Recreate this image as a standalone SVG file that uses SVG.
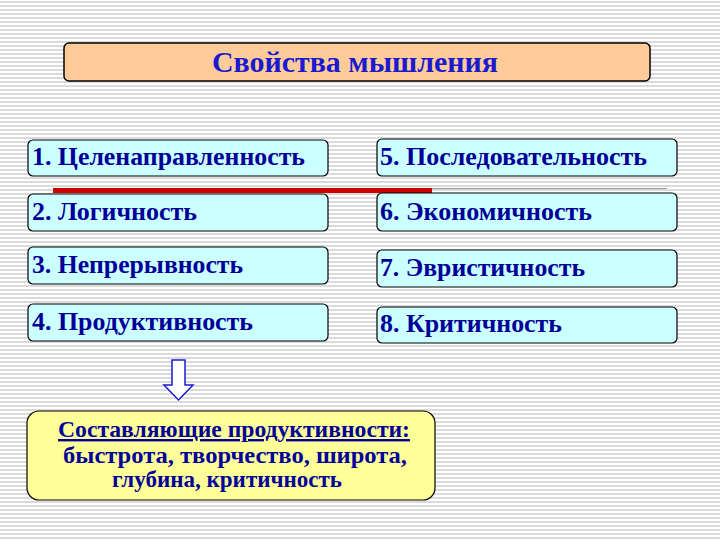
<svg xmlns="http://www.w3.org/2000/svg" width="720" height="540" viewBox="0 0 720 540">
<defs>
<pattern id="stripes" x="0" y="0" width="8" height="4" patternUnits="userSpaceOnUse">
<rect x="0" y="0" width="8" height="4" fill="#ffffff"/>
<rect x="0" y="1" width="8" height="2" fill="#dadada"/>
</pattern>
</defs>
<style>
.box{fill:#ccffff;stroke:#000000;stroke-width:1.2}
.lbl{font-family:"Liberation Serif","Times New Roman",serif;font-weight:bold;font-size:26px;fill:#000099}
.sub{font-family:"Liberation Serif","Times New Roman",serif;font-weight:bold;font-size:24px;fill:#000099}
.title{font-family:"Liberation Serif","Times New Roman",serif;font-weight:bold;font-size:30px;fill:#1a1ad0}
</style>
<rect x="0" y="0" width="720" height="540" fill="url(#stripes)"/>
<g id="title">
<rect x="64" y="43" width="586" height="38" rx="5" fill="#ffcc99" stroke="#000" stroke-width="1.5"/>
<text class="title" x="212" y="72" textLength="286" lengthAdjust="spacingAndGlyphs">Свойства мышления</text>
</g>
<g id="connectors">
<line x1="53" y1="188.5" x2="667" y2="188.5" stroke="#9a9a9a" stroke-width="1"/>
<rect x="53" y="188" width="379" height="5" fill="#cc0000"/>
<path d="M172,360 L185,360 L185,385 L193,385 L178.5,400 L164,385 L172,385 Z" fill="#ffffff" stroke="#1a1ad0" stroke-width="1.5" stroke-linejoin="miter"/>
</g>
<g id="n1"><rect class="box" x="28" y="140" width="300" height="36" rx="5"/><text class="lbl" x="32" y="165" textLength="273" lengthAdjust="spacingAndGlyphs">1. Целенаправленность</text></g>
<g id="n2"><rect class="box" x="28" y="194" width="300" height="37" rx="5"/><text class="lbl" x="32" y="220" textLength="165" lengthAdjust="spacingAndGlyphs">2. Логичность</text></g>
<g id="n3"><rect class="box" x="28" y="247" width="300" height="37" rx="5"/><text class="lbl" x="32" y="273" textLength="211" lengthAdjust="spacingAndGlyphs">3. Непрерывность</text></g>
<g id="n4"><rect class="box" x="28" y="304" width="300" height="37" rx="5"/><text class="lbl" x="32" y="330" textLength="221" lengthAdjust="spacingAndGlyphs">4. Продуктивность</text></g>
<g id="n5"><rect class="box" x="377" y="139" width="300" height="37" rx="5"/><text class="lbl" x="380" y="165" textLength="267" lengthAdjust="spacingAndGlyphs">5. Последовательность</text></g>
<g id="n6"><rect class="box" x="377" y="193" width="300" height="38" rx="5"/><text class="lbl" x="380" y="220" textLength="212" lengthAdjust="spacingAndGlyphs">6. Экономичность</text></g>
<g id="n7"><rect class="box" x="377" y="250" width="300" height="37" rx="5"/><text class="lbl" x="380" y="276" textLength="205" lengthAdjust="spacingAndGlyphs">7. Эвристичность</text></g>
<g id="n8"><rect class="box" x="377" y="307" width="300" height="36" rx="5"/><text class="lbl" x="380" y="332" textLength="182" lengthAdjust="spacingAndGlyphs">8. Критичность</text></g>
<g id="n9">
<rect x="27" y="411" width="408" height="89" rx="12" fill="#ffff99" stroke="#000" stroke-width="1.2"/>
<text class="sub" x="58" y="437" textLength="352" lengthAdjust="spacingAndGlyphs" text-decoration="underline">Составляющие продуктивности:</text>
<text class="sub" x="63" y="463" textLength="344" lengthAdjust="spacingAndGlyphs">быстрота, творчество, широта,</text>
<text class="sub" x="112" y="487" textLength="230" lengthAdjust="spacingAndGlyphs">глубина, критичность</text>
</g>
</svg>
